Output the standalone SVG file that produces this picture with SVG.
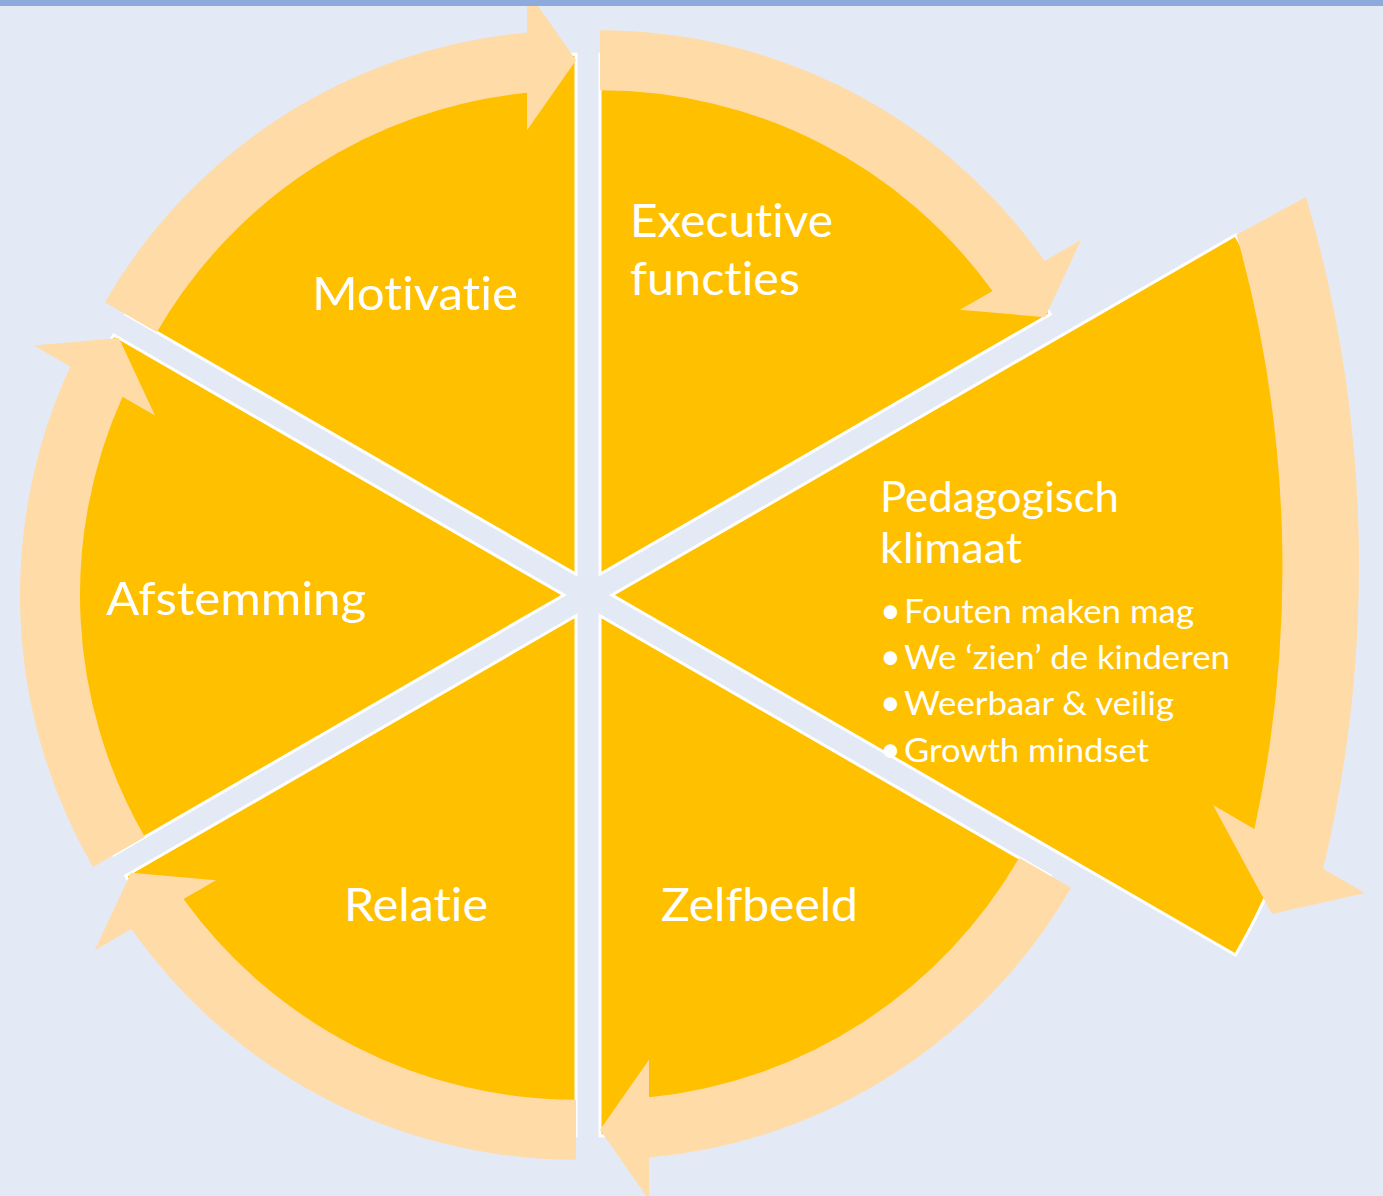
<svg xmlns="http://www.w3.org/2000/svg" width="1383" height="1196" viewBox="0 0 1383 1196">
<style>
.slice{fill:#FFC000;stroke:#FFFFFF;stroke-width:3;stroke-linejoin:miter}
.arrow{fill:#FFDBA8}
.lbl{font-family:Lato,"Open Sans","Liberation Sans",sans-serif;fill:#FFFFFF;font-variant-ligatures:none;font-feature-settings:"liga" 0}
.big{font-size:47px}
.mid{font-size:43px}
.small{font-size:33px}
.bul{font-size:36px}
</style>
<rect x="0" y="0" width="1383" height="1196" fill="#E3EAF6"/>
<g id="node-executive">
<path class="slice" d="M600,574.2 L600,54.2 A520 520 0 0 1 1050.3,314.2 Z"/>
<text class="lbl big" x="630" y="237" textLength="203" lengthAdjust="spacingAndGlyphs">Executive</text>
<text class="lbl big" x="630" y="295" textLength="170" lengthAdjust="spacingAndGlyphs">functies</text>
</g>
<g id="node-zelfbeeld">
<path class="slice" d="M600,615.8 L1050.3,875.8 A520 520 0 0 1 600,1135.8 Z"/>
<text class="lbl big" x="661" y="921" textLength="197" lengthAdjust="spacingAndGlyphs">Zelfbeeld</text>
</g>
<g id="node-relatie">
<path class="slice" d="M576,615.8 L576,1135.8 A520 520 0 0 1 125.7,875.8 Z"/>
<text class="lbl big" x="344" y="921" textLength="144" lengthAdjust="spacingAndGlyphs">Relatie</text>
</g>
<g id="node-afstemming">
<path class="slice" d="M564,595 L113.7,855 A520 520 0 0 1 113.7,335 Z"/>
<text class="lbl big" x="106" y="615" textLength="260" lengthAdjust="spacingAndGlyphs">Afstemming</text>
</g>
<g id="node-motivatie">
<path class="slice" d="M576,574.2 L125.7,314.2 A520 520 0 0 1 576,54.2 Z"/>
<text class="lbl big" x="312" y="310" textLength="206" lengthAdjust="spacingAndGlyphs">Motivatie</text>
</g>
<g id="node-pedagogisch">
<path class="slice" d="M612,595 L1235.5,235 A720 720 0 0 1 1235.5,955 Z"/>
<text class="lbl mid" x="880" y="512" textLength="239" lengthAdjust="spacingAndGlyphs">Pedagogisch</text>
<text class="lbl mid" x="880" y="563" textLength="142" lengthAdjust="spacingAndGlyphs">klimaat</text>
<text class="lbl bul" x="880" y="623">•</text>
<text class="lbl small" x="904" y="623" textLength="290" lengthAdjust="spacingAndGlyphs">Fouten maken mag</text>
<text class="lbl bul" x="880" y="669">•</text>
<text class="lbl small" x="904" y="669" textLength="326" lengthAdjust="spacingAndGlyphs">We ‘zien’ de kinderen</text>
<text class="lbl bul" x="880" y="715">•</text>
<text class="lbl small" x="904" y="715" textLength="270" lengthAdjust="spacingAndGlyphs">Weerbaar &amp; veilig</text>
<text class="lbl bul" x="880" y="762">•</text>
<text class="lbl small" x="904" y="762" textLength="245" lengthAdjust="spacingAndGlyphs">Growth mindset</text>
</g>
<g id="connectors">
<path class="arrow" d="M600,30.2 A544 544 0 0 1 1044.7,260.9 L1081.2,239.8 L1045.1,317.2 L960,309.8 L992.5,291 A484 484 0 0 0 600,90.2 Z"/>
<path class="arrow" d="M1306,197 A1306 1306 0 0 1 1323.2,868.8 L1365,893 L1272,914 L1213,805 L1254.4,829 A1230 1230 0 0 0 1236.5,234.7 Z"/>
<path class="arrow" d="M1071.1,887.8 A544 544 0 0 1 649,1157.6 L649,1199.8 L600,1129.8 L649,1059.8 L649,1097.3 A484 484 0 0 0 1019.2,857.8 Z"/>
<path class="arrow" d="M576,1159.8 A544 544 0 0 1 131.3,929.1 L94.8,950.2 L130.9,872.8 L216,880.2 L183.5,899 A484 484 0 0 0 576,1099.8 Z"/>
<path class="arrow" d="M92.9,867 A544 544 0 0 1 70.3,366.5 L33.8,345.4 L118.9,338 L155,415.4 L122.5,396.7 A484 484 0 0 0 144.8,837 Z"/>
<path class="arrow" d="M104.9,302.2 A544 544 0 0 1 527,32.4 L527,-9.8 L576,60.2 L527,130.2 L527,92.7 A484 484 0 0 0 156.8,332.2 Z"/>
</g>
<rect x="0" y="0" width="1383" height="6" fill="#8EA9DB"/>
</svg>
